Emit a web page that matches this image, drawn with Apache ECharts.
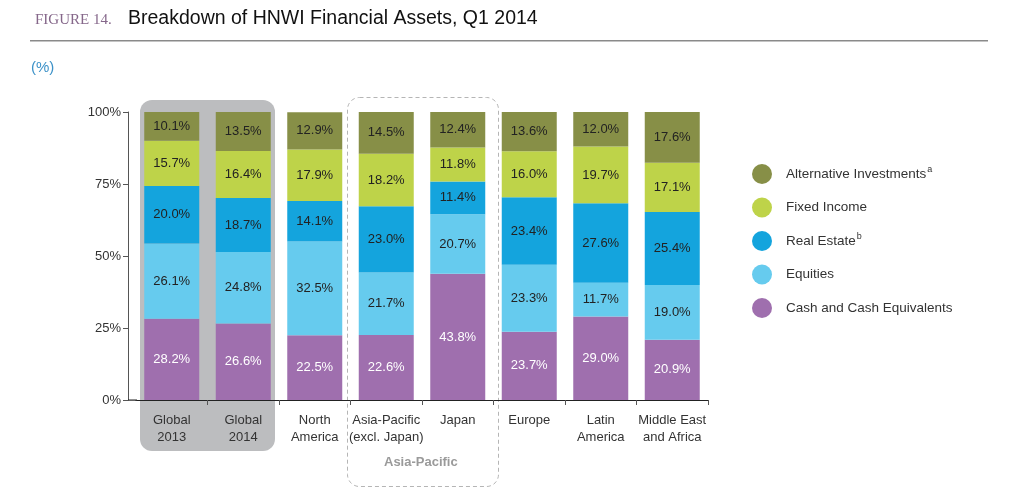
<!DOCTYPE html>
<html><head><meta charset="utf-8">
<script src="https://cdn.jsdelivr.net/npm/echarts@6/dist/echarts.min.js"></script>
<style>html,body{margin:0;padding:0;background:#fff}#c{width:1024px;height:489px}</style>
</head><body><div id="c"></div>
<script>
const categories = ['Global\n2013','Global\n2014','North\nAmerica','Asia-Pacific\n(excl. Japan)','Japan','Europe','Latin\nAmerica','Middle East\nand Africa'];
const cash = [28.2,26.6,22.5,22.6,43.8,23.7,29.0,20.9];
const equities = [26.1,24.8,32.5,21.7,20.7,23.3,11.7,19.0];
const realEstate = [20.0,18.7,14.1,23.0,11.4,23.4,27.6,25.4];
const fixedIncome = [15.7,16.4,17.9,18.2,11.8,16.0,19.7,17.1];
const alternative = [10.1,13.5,12.9,14.5,12.4,13.6,12.0,17.6];
const yTicks = [0,25,50,75,100];

const FONT = '"Liberation Sans", Arial, sans-serif';
const chart = echarts.init(document.getElementById('c'), null, {renderer:'canvas'});
function mk(name, data, color, labelColor){
  return {name, type:'bar', stack:'a', data, barWidth:55,
    itemStyle:{color},
    label:{show:true, position:'inside', formatter:p=>p.value.toFixed(1)+'%', color:labelColor, fontFamily:FONT, fontSize:13},
    emphasis:{disabled:true}};
}
chart.setOption({
  animation:false,
  textStyle:{fontFamily:FONT},
  grid:{left:136, right:316, top:112, bottom:89},
  xAxis:{type:'category', data:categories,
    axisLine:{lineStyle:{color:'#222', width:1.2}},
    axisTick:{show:true, length:5, lineStyle:{color:'#555'}},
    axisLabel:{color:'#333', fontSize:13, lineHeight:17, margin:12, fontFamily:FONT, interval:0}},
  yAxis:{type:'value', min:0, max:yTicks[yTicks.length-1], interval:25, offset:8,
    axisLine:{show:true, lineStyle:{color:'#555'}},
    axisTick:{show:true, length:5, lineStyle:{color:'#555'}},
    splitLine:{show:false},
    axisLabel:{color:'#333', fontSize:13, margin:7, formatter:v=>v+'%', fontFamily:FONT}},
  legend:{orient:'vertical', left:747, top:159, itemWidth:20, itemHeight:20, itemGap:13.5, icon:'circle',
    data:['Alternative Investments','Fixed Income','Real Estate','Equities','Cash and Cash Equivalents'],
    formatter:function(n){
      if(n==='Alternative Investments') return '{t|'+n+'}{s|a}';
      if(n==='Real Estate') return '{t|'+n+'}{s|b}';
      return '{t|'+n+'}';
    },
    textStyle:{color:'#333', fontSize:13, fontFamily:FONT, padding:[0,0,0,9],
      rich:{t:{fontSize:13.5, color:'#333', fontFamily:FONT}, s:{fontSize:9, color:'#333', verticalAlign:'top', padding:[0,0,8,1], fontFamily:FONT}}}},
  series:[
    mk('Cash and Cash Equivalents', cash, '#9f6fae', '#ffffff'),
    mk('Equities', equities, '#66cbee', '#222'),
    mk('Real Estate', realEstate, '#14a4dd', '#222'),
    mk('Fixed Income', fixedIncome, '#bed349', '#222'),
    mk('Alternative Investments', alternative, '#878f47', '#222')
  ],
  graphic:[
    {type:'rect', z:-10, shape:{x:140, y:100, width:135, height:351, r:12}, style:{fill:'#bcbdbf'}},
    {type:'rect', z:-10, shape:{x:347.5, y:97.5, width:151, height:389, r:12}, style:{fill:'none', stroke:'#b5b5b5', lineWidth:1, lineDash:[4,3]}},
    {type:'rect', z:5, shape:{x:128, y:399.5, width:9, height:1.2}, style:{fill:'#222'}},
    {type:'rect', z:5, shape:{x:134, y:401, width:5, height:6}, style:{fill:'#ffffff'}},
    {type:'text', left:384, top:456, style:{text:'Asia-Pacific', fill:'#9a9a9a', font:'bold 13px '+FONT}},
    {type:'text', left:35, top:13, style:{text:'FIGURE 14.', fill:'#85678a', font:'15px "Liberation Serif", serif'}},
    {type:'text', left:128, top:9, style:{text:'Breakdown of HNWI Financial Assets, Q1 2014', fill:'#111', font:'19.5px '+FONT}},
    {type:'rect', shape:{x:30, y:40, width:958, height:1.5}, style:{fill:'#8a8a8a'}},
    {type:'text', left:31, top:60, style:{text:'(%)', fill:'#3d92c8', font:'15px '+FONT}}
  ]
});
</script></body></html>
